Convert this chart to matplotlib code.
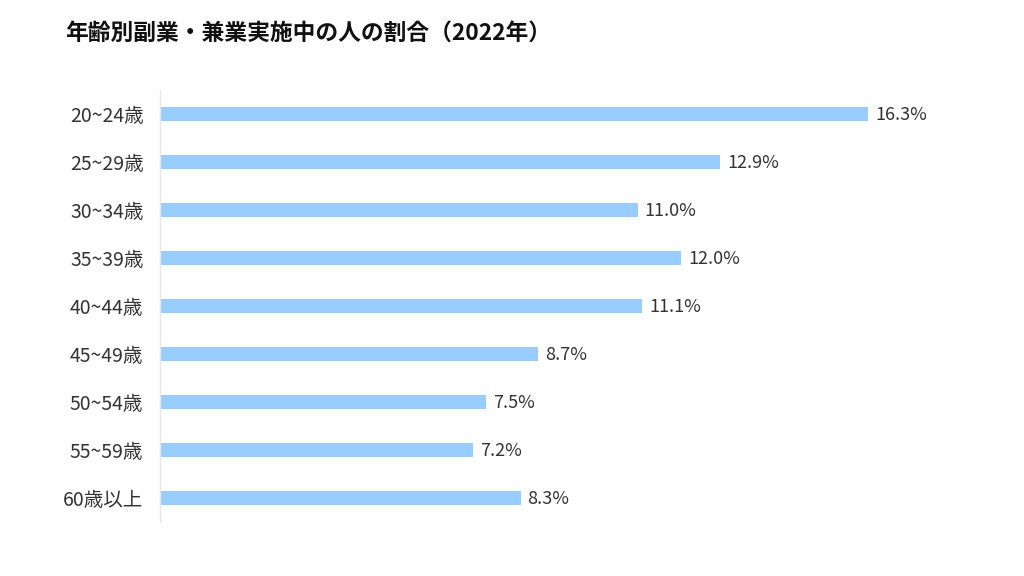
import matplotlib
matplotlib.use("Agg")
import matplotlib.pyplot as plt

plt.rcParams['font.family'] = ['Noto Sans CJK JP', 'DejaVu Sans']

categories = ["20~24歳", "25~29歳", "30~34歳", "35~39歳", "40~44歳",
              "45~49歳", "50~54歳", "55~59歳", "60歳以上"]
values = [16.3, 12.9, 11.0, 12.0, 11.1, 8.7, 7.5, 7.2, 8.3]
title = "年齢別副業・兼業実施中の人の割合（2022年）"

W, H = 1024, 576
fig = plt.figure(figsize=(W / 100, H / 100), dpi=100)
left, right = 160, 1000
top, bottom = 90, 522
ax = fig.add_axes([left / W, 1 - bottom / H, (right - left) / W, (bottom - top) / H])

scale = (868 - 160) / 16.3
ax.set_xlim(0, (right - left) / scale)
ax.set_ylim(len(categories) - 0.5, -0.5)

ypos = list(range(len(categories)))
ax.barh(ypos, values, height=14 / 48, color="#99CCFF")
for y, v in zip(ypos, values):
    ax.annotate(f"{v:.1f}%", (v, y), xytext=(5, -1), textcoords="offset points",
                ha="left", va="center", fontsize=13, color="#333333")

ax.set_yticks(ypos)
ax.set_yticklabels(categories, fontsize=14, color="#333333")
for lbl in ax.get_yticklabels():
    lbl.set_y(lbl.get_position()[1])
ax.tick_params(axis="y", length=0, pad=12)
ax.set_xticks([])
for s in ["top", "right", "bottom"]:
    ax.spines[s].set_visible(False)
ax.spines["left"].set_color("#e6e6e6")
ax.spines["left"].set_linewidth(1)

fig.text(65 / W, 1 - 33 / H, title, fontsize=16.4, fontweight="bold",
         ha="left", va="center", color="#111111")

fig.savefig("out.png", dpi=100, facecolor="white")
